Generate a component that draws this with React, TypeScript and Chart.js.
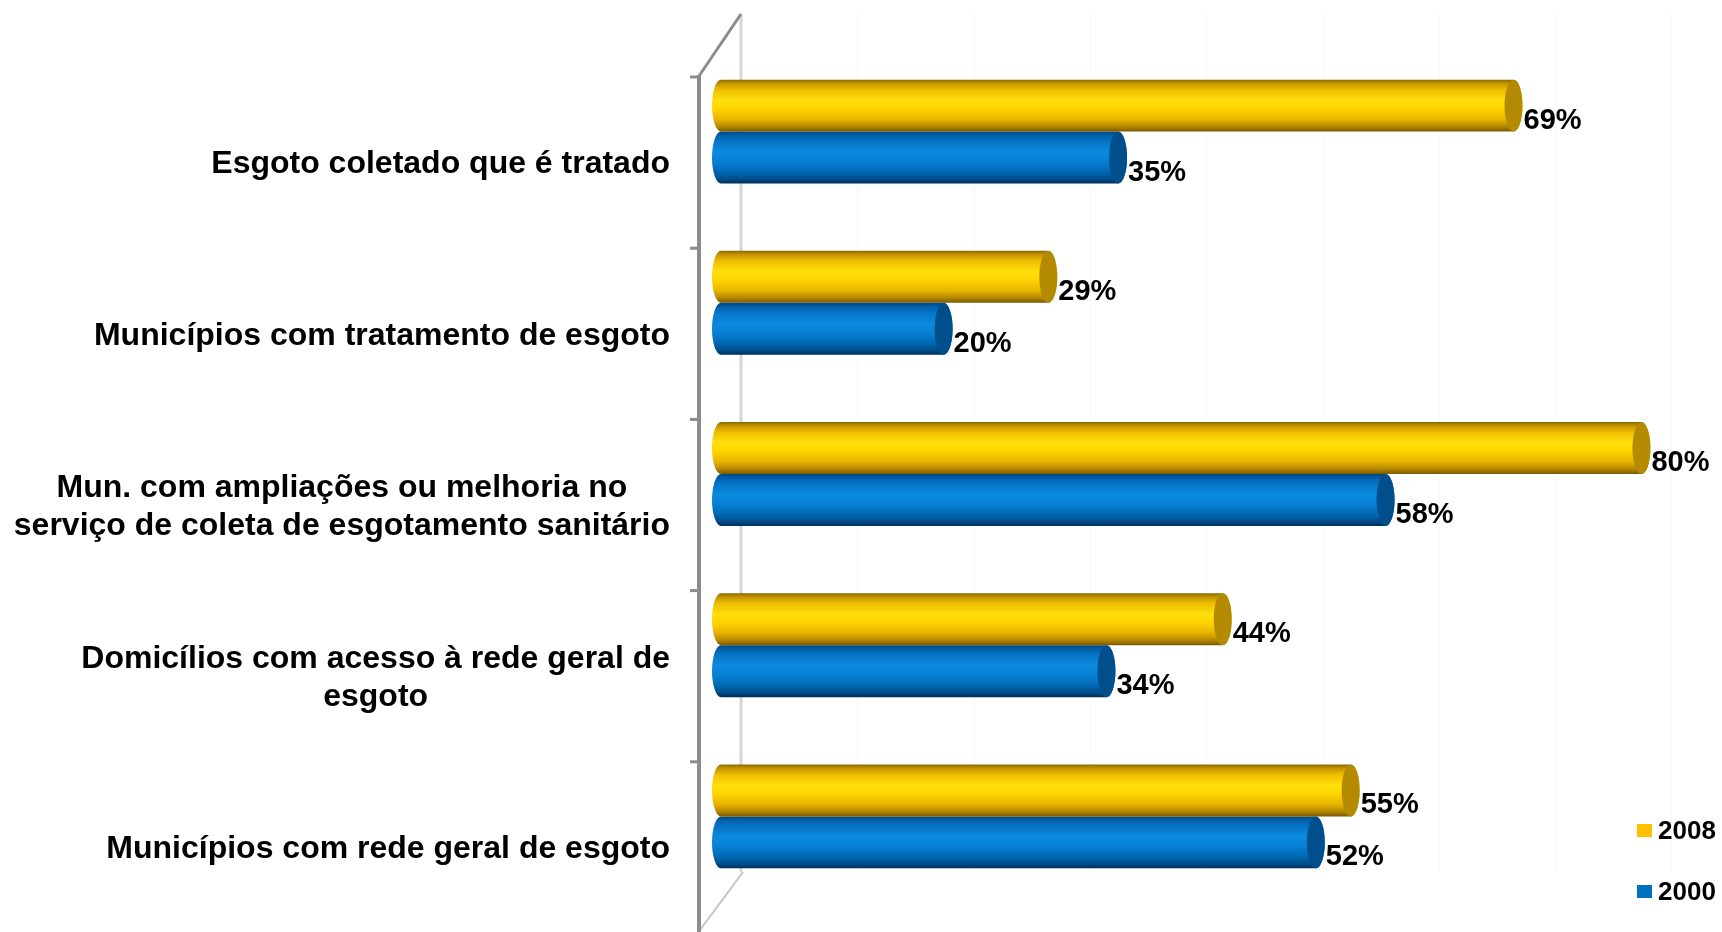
import React, { useEffect, useRef } from "react";
import { Chart, registerables } from "chart.js";

Chart.register(...registerables);

const categories: string[][] = [
  ["Esgoto coletado que é tratado"],
  ["Municípios com tratamento de esgoto"],
  ["Mun. com ampliações ou melhoria no", "serviço de coleta de esgotamento sanitário"],
  ["Domicílios com acesso à rede geral de", "esgoto"],
  ["Municípios com rede geral de esgoto"],
];
const seriesLabels = ["2008", "2000"];
const values2008 = [69, 29, 80, 44, 55];
const values2000 = [35, 20, 58, 34, 52];
const seriesColors = ["#FFC000", "#0070C0"];

const FONT = '"Liberation Sans", Arial, sans-serif';

const yellowStops: [number, string][] = [
  [0, "#8a6800"], [0.07, "#c29300"], [0.2, "#f0be00"], [0.4, "#ffe00c"],
  [0.56, "#ffd400"], [0.76, "#e9b500"], [0.9, "#b88900"], [1, "#7a5a00"],
];
const blueStops: [number, string][] = [
  [0, "#004780"], [0.08, "#0061ac"], [0.2, "#0776c8"], [0.4, "#0a8ae0"],
  [0.58, "#0780d4"], [0.78, "#0068b2"], [0.92, "#004c88"], [1, "#002d58"],
];
const capColors = ["#b38a00", "#004f8c"];

const cylinderPlugin = {
  id: "cylinders",
  beforeDatasetsDraw(chart: any) {
    const { ctx, chartArea } = chart;
    const { left, top, bottom } = chartArea;
    const xs = chart.scales.x;
    const ys = chart.scales.y;
    const frontX = left - 17;
    const backX = left + 25;
    const frontTop = top + 30;
    const frontBottom = bottom + 30;
    const backTop = top - 32;
    const backBottom = bottom - 30;
    ctx.save();
    // very faint gridlines on back wall
    ctx.strokeStyle = "#f8f8f8";
    ctx.lineWidth = 1;
    for (let v = 10; v <= 80; v += 10) {
      const gx = Math.round(xs.getPixelForValue(v) + 25) + 0.5;
      ctx.beginPath();
      ctx.moveTo(gx, backTop);
      ctx.lineTo(gx, backBottom);
      ctx.stroke();
    }
    // back wall edge
    ctx.strokeStyle = "#d6d6d6";
    ctx.lineWidth = 3;
    ctx.beginPath();
    ctx.moveTo(backX, backTop);
    ctx.lineTo(backX, backBottom);
    ctx.stroke();
    // bottom diagonal
    ctx.strokeStyle = "#c4c4c4";
    ctx.lineWidth = 2;
    ctx.beginPath();
    ctx.moveTo(backX + 2, backBottom);
    ctx.lineTo(frontX + 1, frontBottom - 2);
    ctx.stroke();
    // top diagonal
    ctx.strokeStyle = "#8c8c8c";
    ctx.lineWidth = 3;
    ctx.beginPath();
    ctx.moveTo(frontX, frontTop);
    ctx.lineTo(backX, backTop);
    ctx.stroke();
    // front axis
    ctx.lineWidth = 4;
    ctx.beginPath();
    ctx.moveTo(frontX, frontTop - 1);
    ctx.lineTo(frontX, frontBottom);
    ctx.stroke();
    // ticks
    ctx.lineWidth = 3;
    for (let k = 0; k < categories.length; k++) {
      const ty = ys.getPixelForValue(k - 0.5) + 30 + 1;
      ctx.beginPath();
      ctx.moveTo(frontX - 9, ty);
      ctx.lineTo(frontX, ty);
      ctx.stroke();
    }
    ctx.restore();
  },
  beforeDatasetDraw(chart: any, args: any) {
    const { ctx } = chart;
    const di = args.index;
    const meta = args.meta;
    const stops = di === 0 ? yellowStops : blueStops;
    const rx = 9;
    ctx.save();
    meta.data.forEach((el: any) => {
      const p = el.getProps(["x", "y", "base", "height"], true);
      const L = p.base - 4;
      const R = p.x + 4;
      const t = p.y - p.height / 2;
      const b = p.y + p.height / 2;
      const ry = (b - t) / 2;
      const cy = p.y;
      const cxL = L + rx;
      const cxR = R - rx;
      const g = ctx.createLinearGradient(0, t, 0, b);
      stops.forEach(([o, c]) => g.addColorStop(o, c));
      ctx.beginPath();
      ctx.moveTo(cxL, t);
      ctx.lineTo(cxR, t);
      ctx.ellipse(cxR, cy, rx, ry, 0, -Math.PI / 2, Math.PI / 2, false);
      ctx.lineTo(cxL, b);
      ctx.ellipse(cxL, cy, rx, ry, 0, Math.PI / 2, (3 * Math.PI) / 2, false);
      ctx.closePath();
      ctx.fillStyle = g;
      ctx.fill();
      // end cap
      ctx.beginPath();
      ctx.ellipse(cxR, cy, rx, ry, 0, 0, Math.PI * 2);
      ctx.fillStyle = capColors[di];
      ctx.fill();
    });
    ctx.restore();
    return false;
  },
  afterDraw(chart: any) {
    const { ctx, chartArea } = chart;
    const ys = chart.scales.y;
    ctx.save();
    // category labels
    ctx.fillStyle = "#000";
    ctx.font = `bold 32px ${FONT}`;
    ctx.textBaseline = "middle";
    ctx.textAlign = "center";
    const rightEdge = chartArea.left - 46;
    const lineH = 38;
    categories.forEach((lines, i) => {
      const w = Math.max(...lines.map((l) => ctx.measureText(l).width));
      const cx = rightEdge - w / 2;
      const cy = ys.getPixelForValue(i) + 33;
      lines.forEach((l, j) => {
        ctx.fillText(l, cx, cy + (j - (lines.length - 1) / 2) * lineH);
      });
    });
    // data labels
    ctx.font = `bold 29px ${FONT}`;
    ctx.textAlign = "left";
    chart.data.datasets.forEach((ds: any, di: number) => {
      const meta = chart.getDatasetMeta(di);
      meta.data.forEach((el: any, i: number) => {
        ctx.fillText(`${ds.data[i]}%`, el.x + 5, el.y + 15);
      });
    });
    // legend
    ctx.font = `bold 26px ${FONT}`;
    const legendY = [831, 892];
    chart.data.datasets.forEach((ds: any, di: number) => {
      ctx.fillStyle = seriesColors[di];
      ctx.fillRect(1637, legendY[di] - 7, 15, 13);
      ctx.fillStyle = "#000";
      ctx.fillText(ds.label, 1658, legendY[di] + 1);
    });
    ctx.restore();
  },
};

export default function App() {
  const canvasRef = useRef<HTMLCanvasElement | null>(null);
  useEffect(() => {
    if (!canvasRef.current) return;
    const chart = new Chart(canvasRef.current, {
      type: "bar",
      data: {
        labels: categories,
        datasets: [
          { label: seriesLabels[0], data: values2008, backgroundColor: seriesColors[0] },
          { label: seriesLabels[1], data: values2000, backgroundColor: seriesColors[1] },
        ],
      },
      options: {
        indexAxis: "y",
        responsive: false,
        animation: false,
        devicePixelRatio: 1,
        layout: { padding: { left: 0, top: 46, bottom: 30, right: 17.4 } },
        datasets: { bar: { categoryPercentage: 0.607, barPercentage: 1 } },
        plugins: { legend: { display: false }, tooltip: { enabled: false } },
        scales: {
          x: { min: 0, max: 85, display: false },
          y: {
            display: true,
            grid: { display: false },
            border: { display: false },
            ticks: { display: false },
            afterFit: (s: any) => {
              s.width = 716;
            },
          },
        },
      },
      plugins: [cylinderPlugin],
    } as any);
    return () => chart.destroy();
  }, []);
  return (
    <div style={{ position: "absolute", left: 0, top: 0, width: 1722, height: 932, background: "#fff" }}>
      <canvas ref={canvasRef} width={1722} height={932} style={{ display: "block" }} />
    </div>
  );
}
